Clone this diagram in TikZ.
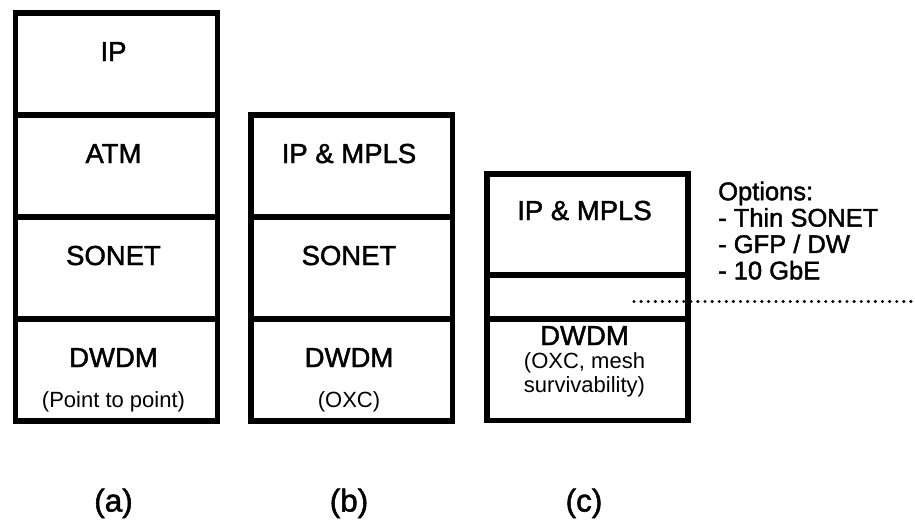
\documentclass[tikz,border=0pt]{standalone}
\usepackage{fontspec}
\setmainfont{Liberation Sans}
\newfontfamily\heavyfont[FakeBold=1.6]{Liberation Sans}
\begin{document}
\begin{tikzpicture}[x=1pt,y=-1pt,
  layerbox/.style={draw, line width=5.8pt, inner sep=0pt, anchor=north west},
  big/.style={font=\heavyfont\fontsize{27.5}{30}\selectfont, anchor=base, inner sep=0pt},
  small/.style={font=\fontsize{22}{25}\selectfont, anchor=base, inner sep=0pt},
  opts/.style={font=\heavyfont\fontsize{25.5}{26.4}\selectfont, anchor=north west, inner sep=0pt, align=left},
  caption/.style={font=\heavyfont\fontsize{31.5}{34}\selectfont, anchor=base, inner sep=0pt},
  dotline/.style={line width=3.4pt, line cap=round, dash pattern=on 0pt off 7.1pt}]
\useasboundingbox (0,0) rectangle (915,520);

% stack (a)
\node[layerbox, minimum width=202pt, minimum height=102pt] (aip)  at (12.5,10)  {};
\node[layerbox, minimum width=202pt, minimum height=102pt] (aatm) at (12.5,112) {};
\node[layerbox, minimum width=202pt, minimum height=102pt] (ason) at (12.5,214) {};
\node[layerbox, minimum width=202pt, minimum height=102pt] (adw)  at (12.5,316) {};
\node[big]   (taip)  at (113.5,61)  {IP};
\node[big]   (taatm) at (113.5,163) {ATM};
\node[big]   (tason) at (113.5,265) {SONET};
\node[big]   (tadw)  at (113.5,367) {DWDM};
\node[small] (tadw2) at (113.5,407) {(Point to point)};

% stack (b)
\node[layerbox, minimum width=201.5pt, minimum height=102pt] (bip)  at (248,112) {};
\node[layerbox, minimum width=201.5pt, minimum height=102pt] (bson) at (248,214) {};
\node[layerbox, minimum width=201.5pt, minimum height=102pt] (bdw)  at (248,316) {};
\node[big]   (tbip)  at (349,163) {IP \& MPLS};
\node[big]   (tbson) at (349,265) {SONET};
\node[big]   (tbdw)  at (349,367) {DWDM};
\node[small] (tbdw2) at (349,407) {(OXC)};

% stack (c)
\node[layerbox, minimum width=201pt, minimum height=101pt] (cip)  at (484,171) {};
\node[layerbox, minimum width=201pt, minimum height=44pt]  (cmid) at (484,272) {};
\node[layerbox, minimum width=201pt, minimum height=101.5pt] (cdw) at (484,316) {};
\node[big]   (tcip)  at (584.5,220) {IP \& MPLS};
\node[big]   (tcdw)  at (584.5,345) {DWDM};
\node[small] (tcdw2) at (584.5,368) {(OXC, mesh};
\node[small] (tcdw3) at (584.5,392.5) {survivability)};

% options for the thin middle layer
\node[opts] (options) at (718,181.5) {Options:\\- Thin SONET\\- GFP / DW\\- 10 GbE};
\coordinate (dotstart) at (634,301.5);
\coordinate (dotend) at (913,301.5);
\draw[dotline] (dotstart) -- (dotend);

% captions
\node[caption] (capa) at (113.5,511.5) {(a)};
\node[caption] (capb) at (349,511.5) {(b)};
\node[caption] (capc) at (584,511.5) {(c)};
\end{tikzpicture}
\end{document}
